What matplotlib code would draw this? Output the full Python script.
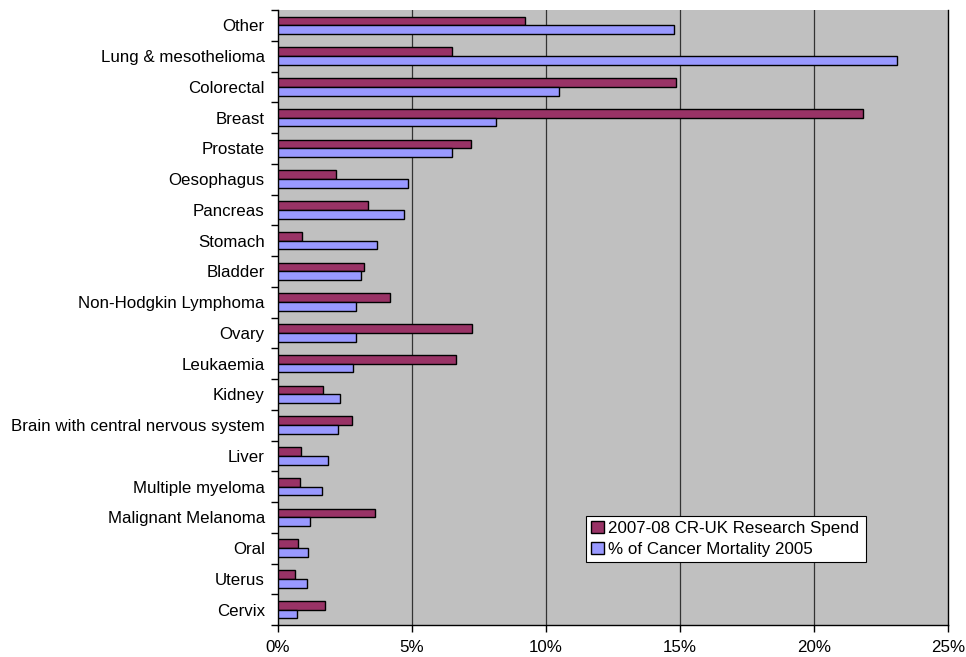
import matplotlib
matplotlib.use("Agg")
import matplotlib.pyplot as plt
import numpy as np
from matplotlib.ticker import FuncFormatter

categories = ["Other", "Lung & mesothelioma", "Colorectal", "Breast", "Prostate",
              "Oesophagus", "Pancreas", "Stomach", "Bladder", "Non-Hodgkin Lymphoma",
              "Ovary", "Leukaemia", "Kidney", "Brain with central nervous system",
              "Liver", "Multiple myeloma", "Malignant Melanoma", "Oral", "Uterus", "Cervix"]
research_spend = [9.20, 6.48, 14.84, 21.84, 7.21, 2.16, 3.35, 0.91, 3.22, 4.18,
                  7.23, 6.65, 1.67, 2.76, 0.85, 0.81, 3.61, 0.73, 0.65, 1.77]
mortality = [14.79, 23.09, 10.50, 8.15, 6.50, 4.84, 4.71, 3.68, 3.08, 2.90,
             2.90, 2.81, 2.33, 2.25, 1.87, 1.63, 1.18, 1.12, 1.07, 0.70]
series_names = ["2007-08 CR-UK Research Spend", "% of Cancer Mortality 2005"]
xticks = [0, 5, 10, 15, 20, 25]

plt.rcParams['font.family'] = ['Liberation Sans', 'DejaVu Sans']

fig = plt.figure(figsize=(9.66, 6.57), dpi=100)
ax = fig.add_axes([278/966, 1-625/657, 670/966, 615/657])
ax.set_facecolor('#C0C0C0')

y = np.arange(len(categories))
h = 0.283
ax.barh(y - h/2, research_spend, height=h, color='#993366', edgecolor='black',
        linewidth=1.0, label=series_names[0], zorder=3)
ax.barh(y + h/2, mortality, height=h, color='#9999FF', edgecolor='black',
        linewidth=1.0, label=series_names[1], zorder=3)

ax.set_xlim(0, 25)
ax.set_ylim(len(categories) - 0.5, -0.5)
ax.set_xticks(xticks)
ax.xaxis.set_major_formatter(FuncFormatter(lambda v, p: f"{int(v)}%"))
ax.set_yticks(y)
ax.set_yticklabels(categories)
ax.set_yticks(np.arange(len(categories) + 1) - 0.5, minor=True)
ax.tick_params(axis='y', which='major', length=0, pad=9.5, labelsize=12.2)
ax.tick_params(axis='y', which='minor', length=5, width=1, direction='out')
ax.tick_params(axis='x', length=5, width=1, direction='out', labelsize=12.2, pad=6)

for xv in xticks[1:-1]:
    ax.axvline(xv, color='#333333', linewidth=0.9, zorder=1)

ax.spines['top'].set_visible(False)
for s in ['left', 'bottom', 'right']:
    ax.spines[s].set_color('black')
    ax.spines[s].set_linewidth(1.0)

leg = ax.legend(loc='lower left', bbox_to_anchor=(0.4597, 0.1024, 0.4179, 0.0765),
                mode='expand', borderaxespad=0, fancybox=False, frameon=True,
                edgecolor='black', facecolor='white', framealpha=1,
                fontsize=12.2, handlelength=0.75, handleheight=0.75,
                handletextpad=0.25, borderpad=0.3, labelspacing=0.35)
leg.get_frame().set_linewidth(0.8)

fig.savefig("out.png", dpi=100, facecolor='white')
